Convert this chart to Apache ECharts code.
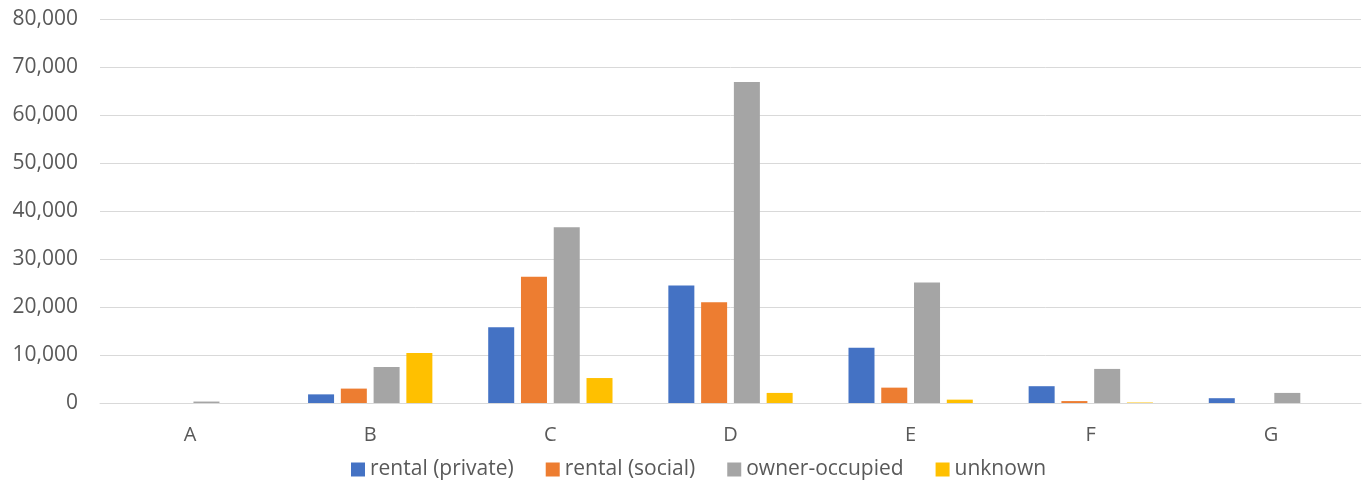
<!DOCTYPE html>
<html>
<head>
<meta charset="utf-8">
<script src="https://cdn.jsdelivr.net/npm/echarts@6/dist/echarts.min.js"></script>
<style>
  html, body { margin: 0; padding: 0; background: #fff; }
  #chart-target { width: 1367px; height: 481px; }
</style>
</head>
<body>
<div id="chart-target"></div>
<script>
  // categories and series values
  const categories = ['A', 'B', 'C', 'D', 'E', 'F', 'G'];
  const rentalPrivate = [0, 1800, 15800, 24500, 11500, 3500, 1000];
  const rentalSocial = [0, 3000, 26300, 21000, 3200, 400, 0];
  const ownerOccupied = [300, 7500, 36600, 66900, 25100, 7100, 2100];
  const unknown = [0, 10400, 5200, 2100, 700, 100, 0];

  const colors = ['#4472C4', '#ED7D31', '#A5A5A5', '#FFC000'];
  const font = '"Open Sans", "Liberation Sans", sans-serif';

  let myChart = echarts.init(document.getElementById('chart-target'));
  myChart.setOption({
    color: colors,
    animation: false,
    grid: { left: 100, right: 6, top: 19, bottom: 78 },
    legend: {
      top: 454,
      left: 346,
      itemWidth: 14,
      itemHeight: 14,
      itemGap: 32,
      icon: 'rect',
      textStyle: { color: '#595959', fontSize: 21, fontFamily: font },
      data: ['rental (private)', 'rental (social)', 'owner-occupied', 'unknown']
    },
    xAxis: {
      type: 'category',
      data: categories,
      axisLine: { lineStyle: { color: '#D9D9D9', width: 1 } },
      axisTick: { show: false },
      axisLabel: { color: '#595959', fontSize: 20, fontFamily: font, margin: 22 }
    },
    yAxis: {
      type: 'value',
      min: 0,
      max: 80000,
      interval: 10000,
      axisLine: { show: false },
      axisTick: { show: false },
      splitLine: { lineStyle: { color: '#D9D9D9', width: 1 } },
      axisLabel: {
        color: '#595959', fontSize: 21, fontFamily: font, margin: 22,
        formatter: v => v.toLocaleString('en-US')
      }
    },
    series: [
      { name: 'rental (private)', type: 'bar', data: rentalPrivate, barGap: '26%', barCategoryGap: '31%' },
      { name: 'rental (social)', type: 'bar', data: rentalSocial },
      { name: 'owner-occupied', type: 'bar', data: ownerOccupied },
      { name: 'unknown', type: 'bar', data: unknown }
    ]
  });
</script>
</body>
</html>
